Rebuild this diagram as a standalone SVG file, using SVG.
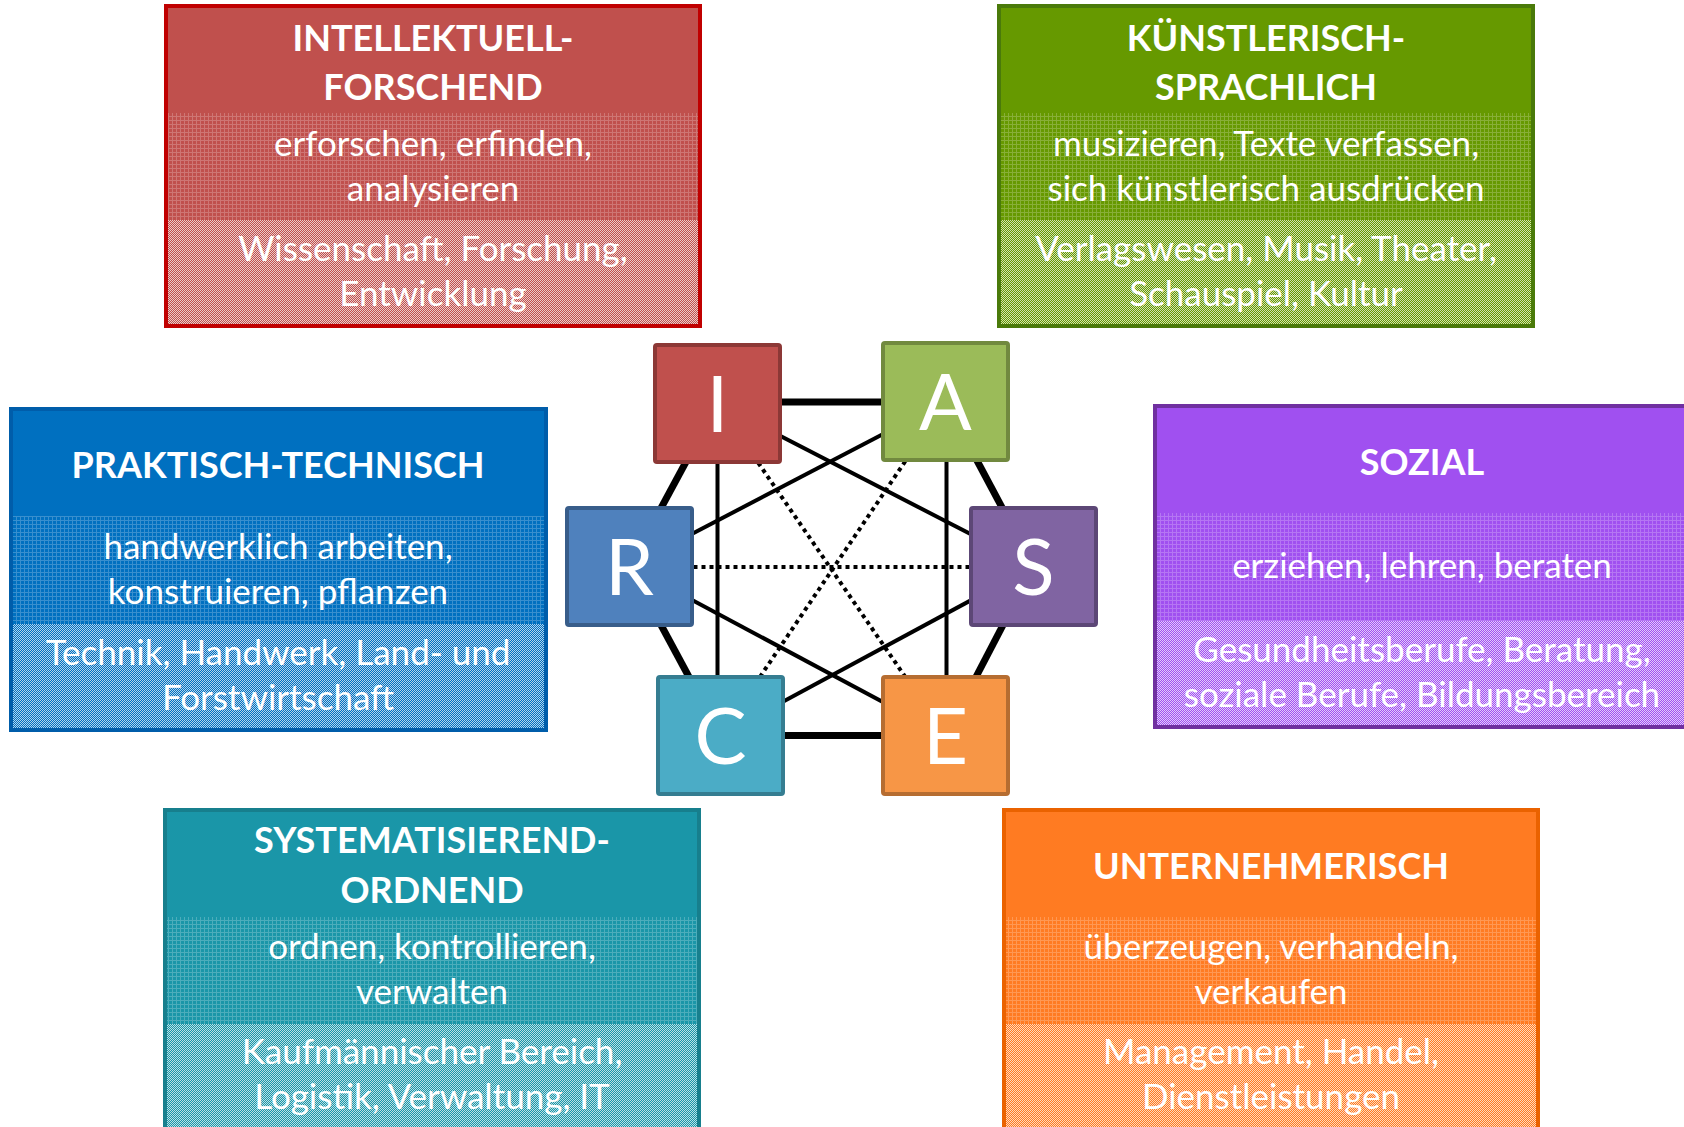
<svg xmlns="http://www.w3.org/2000/svg" width="1684" height="1127" viewBox="0 0 1684 1127">
<style>
.hd{font-family:Lato,"Liberation Sans",sans-serif;font-weight:700;font-size:36px;fill:#fff;text-anchor:middle}
.tx{font-family:Lato,"Liberation Sans",sans-serif;font-size:35px;fill:#fff;text-anchor:middle}
.lt{font-family:Lato,"Liberation Sans",sans-serif;font-size:78px;fill:#fff;text-anchor:middle}
.frame{fill:none;stroke-width:4}
.sq{stroke-width:4}
.thick{stroke:#000;stroke-width:7;fill:none}
.thin{stroke:#000;stroke-width:4;fill:none}
.dot{stroke:#000;stroke-width:4;fill:none;stroke-dasharray:4 4}
</style>
<defs>
<pattern id="grid" width="4" height="4" patternUnits="userSpaceOnUse"><rect width="4" height="1" fill="#fff" fill-opacity=".22"/><rect y="1" width="1" height="3" fill="#fff" fill-opacity=".22"/></pattern>
<pattern id="check" width="2" height="2" patternUnits="userSpaceOnUse"><rect width="1" height="1" fill="#fff" fill-opacity=".7"/><rect x="1" y="1" width="1" height="1" fill="#fff" fill-opacity=".7"/></pattern>
</defs>
<rect width="1684" height="1127" fill="#fff"/>

<g id="box-intellektuell">
<rect x="166" y="6" width="534" height="107" fill="#C0504D"/>
<rect x="166" y="113" width="534" height="107" fill="#C0504D"/><rect x="166" y="113" width="534" height="107" fill="url(#grid)"/>
<rect x="166" y="220" width="534" height="106" fill="#C0504D"/><rect x="166" y="220" width="534" height="106" fill="url(#check)"/>
<rect class="frame" x="166" y="6" width="534" height="320" stroke="#C00000"/>
<text class="hd" x="433" y="51">INTELLEKTUELL-</text>
<text class="hd" x="433" y="100">FORSCHEND</text>
<text class="tx" x="433" y="156">erforschen, erfinden,</text>
<text class="tx" x="433" y="201">analysieren</text>
<text class="tx" x="433" y="261">Wissenschaft, Forschung,</text>
<text class="tx" x="433" y="306">Entwicklung</text>
</g>

<g id="box-kuenstlerisch">
<rect x="999" y="6" width="534" height="107" fill="#669900"/>
<rect x="999" y="113" width="534" height="107" fill="#669900"/><rect x="999" y="113" width="534" height="107" fill="url(#grid)"/>
<rect x="999" y="220" width="534" height="106" fill="#669900"/><rect x="999" y="220" width="534" height="106" fill="url(#check)"/>
<rect class="frame" x="999" y="6" width="534" height="320" stroke="#4A7A0A"/>
<text class="hd" x="1266" y="51">KÜNSTLERISCH-</text>
<text class="hd" x="1266" y="100">SPRACHLICH</text>
<text class="tx" x="1266" y="156">musizieren, Texte verfassen,</text>
<text class="tx" x="1266" y="201">sich künstlerisch ausdrücken</text>
<text class="tx" x="1266" y="261">Verlagswesen, Musik, Theater,</text>
<text class="tx" x="1266" y="306">Schauspiel, Kultur</text>
</g>

<g id="box-praktisch">
<rect x="11" y="409" width="535" height="107" fill="#0070C0"/>
<rect x="11" y="516" width="535" height="108" fill="#0070C0"/><rect x="11" y="516" width="535" height="108" fill="url(#grid)"/>
<rect x="11" y="624" width="535" height="106" fill="#0070C0"/><rect x="11" y="624" width="535" height="106" fill="url(#check)"/>
<rect class="frame" x="11" y="409" width="535" height="321" stroke="#005DAA"/>
<text class="hd" x="278" y="478">PRAKTISCH-TECHNISCH</text>
<text class="tx" x="278" y="559">handwerklich arbeiten,</text>
<text class="tx" x="278" y="604">konstruieren, pflanzen</text>
<text class="tx" x="278" y="665">Technik, Handwerk, Land- und</text>
<text class="tx" x="278" y="710">Forstwirtschaft</text>
</g>

<g id="box-sozial">
<rect x="1155" y="406" width="535" height="107" fill="#A050F0"/>
<rect x="1155" y="513" width="535" height="108" fill="#A050F0"/><rect x="1155" y="513" width="535" height="108" fill="url(#grid)"/>
<rect x="1155" y="621" width="535" height="106" fill="#A050F0"/><rect x="1155" y="621" width="535" height="106" fill="url(#check)"/>
<rect class="frame" x="1155" y="406" width="535" height="321" stroke="#7030A0"/>
<text class="hd" x="1422" y="475">SOZIAL</text>
<text class="tx" x="1422" y="578">erziehen, lehren, beraten</text>
<text class="tx" x="1422" y="662">Gesundheitsberufe, Beratung,</text>
<text class="tx" x="1422" y="707">soziale Berufe, Bildungsbereich</text>
</g>

<g id="box-systematisierend">
<rect x="165" y="810" width="534" height="107" fill="#1A96A8"/>
<rect x="165" y="917" width="534" height="107" fill="#1A96A8"/><rect x="165" y="917" width="534" height="107" fill="url(#grid)"/>
<rect x="165" y="1024" width="534" height="116" fill="#1A96A8"/><rect x="165" y="1024" width="534" height="116" fill="url(#check)"/>
<rect class="frame" x="165" y="810" width="534" height="330" stroke="#177F8D"/>
<text class="hd" x="432" y="853">SYSTEMATISIEREND-</text>
<text class="hd" x="432" y="903">ORDNEND</text>
<text class="tx" x="432" y="959">ordnen, kontrollieren,</text>
<text class="tx" x="432" y="1004">verwalten</text>
<text class="tx" x="432" y="1064">Kaufmännischer Bereich,</text>
<text class="tx" x="432" y="1109">Logistik, Verwaltung, IT</text>
</g>

<g id="box-unternehmerisch">
<rect x="1004" y="810" width="534" height="107" fill="#FF7B22"/>
<rect x="1004" y="917" width="534" height="107" fill="#FF7B22"/><rect x="1004" y="917" width="534" height="107" fill="url(#grid)"/>
<rect x="1004" y="1024" width="534" height="116" fill="#FF7B22"/><rect x="1004" y="1024" width="534" height="116" fill="url(#check)"/>
<rect class="frame" x="1004" y="810" width="534" height="330" stroke="#EA6200"/>
<text class="hd" x="1271" y="879">UNTERNEHMERISCH</text>
<text class="tx" x="1271" y="959">überzeugen, verhandeln,</text>
<text class="tx" x="1271" y="1004">verkaufen</text>
<text class="tx" x="1271" y="1064">Management, Handel,</text>
<text class="tx" x="1271" y="1109">Dienstleistungen</text>
</g>

<g id="connectors">
<line class="thick" x1="717.5" y1="402" x2="945.5" y2="402"/>
<line class="thick" x1="945.5" y1="401.5" x2="1033.5" y2="566.5"/>
<line class="thick" x1="1033.5" y1="566.5" x2="945.5" y2="735.5"/>
<line class="thick" x1="945.5" y1="735.5" x2="720.5" y2="735.5"/>
<line class="thick" x1="720.5" y1="735.5" x2="629.5" y2="566.5"/>
<line class="thick" x1="629.5" y1="566.5" x2="717.5" y2="403.5"/>
<line class="thin" x1="717.5" y1="403.5" x2="717.5" y2="735.5"/>
<line class="thin" x1="946.5" y1="401.5" x2="946.5" y2="735.5"/>
<line class="thin" x1="717.5" y1="403.5" x2="1033.5" y2="566.5"/>
<line class="thin" x1="945.5" y1="401.5" x2="629.5" y2="566.5"/>
<line class="thin" x1="629.5" y1="566.5" x2="945.5" y2="735.5"/>
<line class="thin" x1="1033.5" y1="566.5" x2="720.5" y2="735.5"/>
<line class="dot" x1="629.5" y1="567" x2="1033.5" y2="567"/>
<line class="dot" x1="717.5" y1="403.5" x2="945.5" y2="735.5"/>
<line class="dot" x1="945.5" y1="401.5" x2="720.5" y2="735.5"/>
</g>

<g id="node-I"><rect class="sq" x="655" y="345" width="125" height="117" rx="2" fill="#C0504D" stroke="#8C3836"/><text class="lt" x="717.5" y="432">I</text></g>
<g id="node-A"><rect class="sq" x="883" y="343" width="125" height="117" rx="2" fill="#9BBB59" stroke="#71893F"/><text class="lt" x="945.5" y="430">A</text></g>
<g id="node-R"><rect class="sq" x="567" y="508" width="125" height="117" rx="2" fill="#4F81BD" stroke="#385D8A"/><text class="lt" x="629.5" y="595">R</text></g>
<g id="node-S"><rect class="sq" x="971" y="508" width="125" height="117" rx="2" fill="#8064A2" stroke="#5C4776"/><text class="lt" x="1033.5" y="595">S</text></g>
<g id="node-C"><rect class="sq" x="658" y="677" width="125" height="117" rx="2" fill="#4BACC6" stroke="#357D91"/><text class="lt" x="720.5" y="764">C</text></g>
<g id="node-E"><rect class="sq" x="883" y="677" width="125" height="117" rx="2" fill="#F79646" stroke="#B66D31"/><text class="lt" x="945.5" y="764">E</text></g>
</svg>
